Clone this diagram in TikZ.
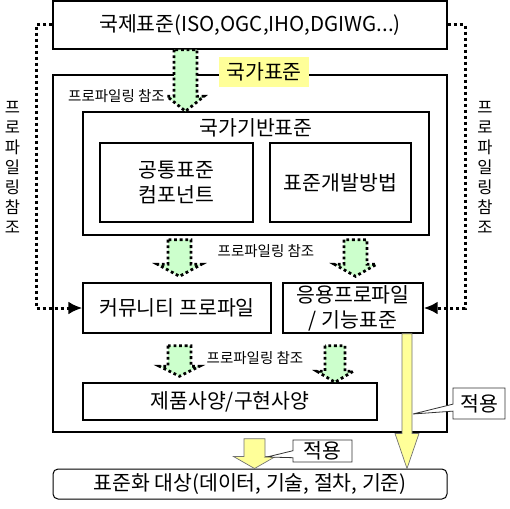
\documentclass[tikz,border=0pt]{standalone}
\usepackage{fontspec}
\setmainfont{Noto Sans CJK KR}
\usetikzlibrary{arrows.meta, positioning, calc, shapes.callouts}

\definecolor{paleGreen}{HTML}{CCFFCC}
\definecolor{paleYellow}{HTML}{FFFF99}

\begin{document}
\begin{tikzpicture}[
    x=1pt, y=-1pt,
    sbox/.style={
        rectangle, draw=black, fill=white,
        line width=1.4pt, inner sep=0pt,
        font=\fontsize{20.5}{25}\selectfont, align=center,
    },
    reflabel/.style={font=\fontsize{14.5}{17}\selectfont, inner sep=1pt},
    vlabel/.style={font=\fontsize{16.5}{20}\selectfont, align=center, inner sep=0pt},
    refline/.style={line width=3pt, dash pattern=on 3pt off 3pt,
        -{Latex[length=14pt, width=13pt]}},
    callbox/.style={
        rectangle callout, draw=black!80, fill=white, line width=0.8pt,
        callout pointer width=7pt, inner sep=0pt,
        font=\fontsize{20.5}{24}\selectfont,
    },
    blockdown/.style n args={3}{
        to path={let \p1=(\tikztostart), \p2=(\tikztotarget) in
            (\x1-#1,\y1) -- (\x1-#1,\y2+#3) -- (\x1-#2,\y2+#3) -- (\x1,\y2)
            -- (\x1+#2,\y2+#3) -- (\x1+#1,\y2+#3) -- (\x1+#1,\y1) -- cycle},
    },
    garrow/.style={fill=paleGreen, draw=black, line width=2.8pt,
        dash pattern=on 2.8pt off 2.8pt},
    yarrow/.style={fill=paleYellow, draw=black!55, line width=0.7pt},
]
\useasboundingbox (0,0) rectangle (510,508);

% === international standards on top ===
\node[sbox, minimum width=394pt, minimum height=48pt] (intl) at (250,25)
    {국제표준(ISO,OGC,IHO,DGIWG...)};

% === national standards frame ===
\node[sbox, minimum width=394pt, minimum height=357pt] (nat) at (250,253.5) {};
\node[fill=paleYellow, minimum width=90pt, minimum height=30pt, inner sep=0pt,
    font=\fontsize{20.5}{24}\selectfont] (natlabel) at (264,72) {국가표준};

% base standards with its two parts
\node[sbox, minimum width=346pt, minimum height=123pt] (base) at (256,173.5) {};
\node[font=\fontsize{20.5}{24}\selectfont, inner sep=0pt] (basetitle) at (256,128) {국가기반표준};
\node[sbox, minimum width=153pt, minimum height=79pt] (common) at (176.5,182.5) {공통표준\\컴포넌트};
\node[sbox, minimum width=141pt, minimum height=79pt] (method) at (340.5,182.5) {표준개발방법};

% profiles
\node[sbox, minimum width=188pt, minimum height=50pt] (comm) at (177,308) {커뮤니티 프로파일};
\node[sbox, minimum width=140pt, minimum height=50pt] (app) at (353,308) {응용프로파일\\/ 기능표준};

% products
\node[sbox, minimum width=294pt, minimum height=37pt] (prod) at (230,401.5) {제품사양/구현사양};

% standardisation target
\node[sbox, rounded corners=5pt, line width=1pt, minimum width=394pt, minimum height=30pt]
    (target) at (250,484) {표준화 대상(데이터, 기술, 절차, 기준)};

% Profiling arrows (green)
\coordinate (gx1) at (185.5,0);
\coordinate (gx2) at (179.5,0);
\coordinate (gx3) at (355.5,0);
\coordinate (gx4) at (179.5,0);
\coordinate (gx5) at (335,0);
\path[garrow, blockdown={11.5pt}{18.5pt}{15pt}] (gx1 |- intl.south) to (gx1 |- base.north);
\path[garrow, blockdown={11.5pt}{22pt}{12pt}]
    ($(gx2 |- base.south)+(0,4)$) to ($(gx2 |- comm.north)+(0,-6)$);
\path[garrow, blockdown={11.5pt}{21pt}{12pt}]
    ($(gx3 |- base.south)+(0,4)$) to ($(gx3 |- app.north)+(0,-6)$);
\path[garrow, blockdown={11.5pt}{20pt}{10pt}]
    ($(gx4 |- comm.south)+(0,12)$) to ($(gx4 |- prod.north)+(0,-6)$);
\path[garrow, blockdown={10pt}{18pt}{11pt}]
    ($(gx5 |- app.south)+(0,12)$) to (gx5 |- prod.north);

\node[reflabel, anchor=east] (ref1) at (166,96) {프로파일링 참조};
\node[reflabel] (ref2) at (266,251) {프로파일링 참조};
\node[reflabel] (ref3) at (255,358) {프로파일링 참조};

% Side references (dotted)
\coordinate (lrail) at (36,0);
\coordinate (rrail) at (465,0);
\draw[refline] (intl.west) -- (intl.west -| lrail) -- (lrail |- comm.west) -- (comm.west);
\draw[refline] (intl.east) -- (intl.east -| rrail) -- (rrail |- app.east) -- (app.east);
\node[vlabel] (vleft) at (12.5,167) {프\\로\\파\\일\\링\\참\\조};
\node[vlabel] (vright) at (485,167) {프\\로\\파\\일\\링\\참\\조};

% Application arrows (yellow)
\coordinate (yx1) at (407,0);
\coordinate (yx2) at (254.5,0);
\path[yarrow, blockdown={5pt}{12pt}{35pt}] (yx1 |- app.south) to (yx1 |- target.north);
\path[yarrow, blockdown={10.5pt}{21pt}{12pt}]
    ($(yx2 |- nat.south)+(0,6)$) to (yx2 |- target.north);

% Callouts
\coordinate (tipA) at (413,414);
\coordinate (tipB) at (267,457);
\node[callbox, callout absolute pointer={(tipA)}, minimum width=52pt, minimum height=31pt]
    (apply1) at (479,403.5) {적용};
\node[callbox, callout absolute pointer={(tipB)}, minimum width=59pt, minimum height=22pt]
    (apply2) at (322.5,451) {적용};

\end{tikzpicture}
\end{document}
